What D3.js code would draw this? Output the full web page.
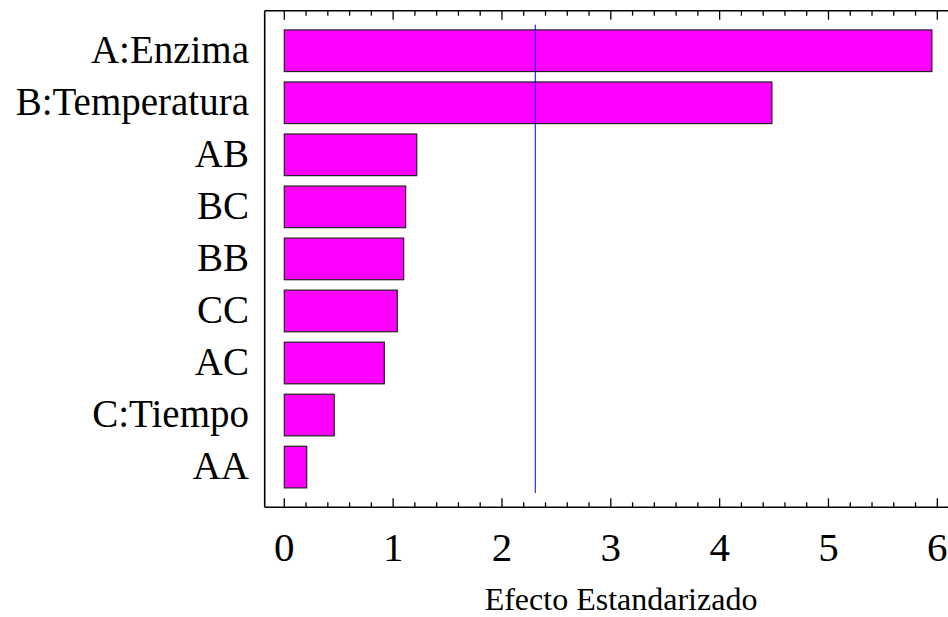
<!DOCTYPE html>
<html>
<head>
<meta charset="utf-8">
<script src="https://cdn.jsdelivr.net/npm/d3@7"></script>
<style>
  html, body { margin: 0; padding: 0; background: #ffffff; }
  svg { display: block; }
  text { font-family: "Liberation Serif", "Times New Roman", Times, serif; fill: #000; }
</style>
</head>
<body>
<svg id="chart" width="948" height="617"></svg>
<script>
// Pareto chart of standardized effects
const categories = ["A:Enzima", "B:Temperatura", "AB", "BC", "BB", "CC", "AC", "C:Tiempo", "AA"];
const effects = [5.95, 4.48, 1.217, 1.115, 1.097, 1.038, 0.919, 0.459, 0.206];
const criticalValue = 2.306;
const tickLabels = [0, 1, 2, 3, 4, 5, 6];
const axisTitle = "Efecto Estandarizado";

const svg = d3.select("#chart");

const frame = { left: 264.7, right: 948.2, top: 10.7, bottom: 507.3 };

const x = d3.scaleLinear()
  .domain([-0.18, 6.1])
  .range([frame.left, frame.right]);

const y = d3.scaleBand()
  .domain(categories)
  .range([24.7, 493.1])
  .paddingInner(0.2)
  .paddingOuter(0.1);

// frame: left, top and bottom lines
const g = svg.append("g");
g.append("line")
  .attr("x1", frame.left).attr("x2", frame.left)
  .attr("y1", frame.top).attr("y2", frame.bottom)
  .attr("stroke", "#000").attr("stroke-width", 1.6);
g.append("line")
  .attr("x1", frame.left).attr("x2", 948)
  .attr("y1", frame.top).attr("y2", frame.top)
  .attr("stroke", "#000").attr("stroke-width", 1.6);
g.append("line")
  .attr("x1", frame.left).attr("x2", 948)
  .attr("y1", frame.bottom).attr("y2", frame.bottom)
  .attr("stroke", "#000").attr("stroke-width", 1.6);

// inward ticks on top and bottom every 0.2, longer at integers
const ticks = d3.range(0, 31).map(i => i / 5);
const isMajor = v => Math.abs(v - Math.round(v)) < 1e-9;

g.selectAll("line.tb").data(ticks).join("line")
  .attr("class", "tb")
  .attr("x1", d => x(d)).attr("x2", d => x(d))
  .attr("y1", frame.bottom)
  .attr("y2", d => frame.bottom - (isMajor(d) ? 9 : 5))
  .attr("stroke", "#000").attr("stroke-width", 1.3);

g.selectAll("line.tt").data(ticks).join("line")
  .attr("class", "tt")
  .attr("x1", d => x(d)).attr("x2", d => x(d))
  .attr("y1", frame.top)
  .attr("y2", d => frame.top + (isMajor(d) ? 9 : 5))
  .attr("stroke", "#000").attr("stroke-width", 1.3);

// tick labels
g.selectAll("text.xl").data(tickLabels).join("text")
  .attr("class", "xl")
  .attr("x", d => x(d))
  .attr("y", 560.5)
  .attr("text-anchor", "middle")
  .style("font-size", "41px")
  .text(d => d);

// bars
g.selectAll("rect.bar").data(categories).join("rect")
  .attr("class", "bar")
  .attr("x", x(0))
  .attr("y", d => y(d))
  .attr("width", (d, i) => x(effects[i]) - x(0))
  .attr("height", y.bandwidth())
  .attr("fill", "#ff00ff")
  .attr("stroke", "#222")
  .attr("stroke-width", 1.2);

// category labels
g.selectAll("text.yl").data(categories).join("text")
  .attr("class", "yl")
  .attr("x", 249)
  .attr("y", d => y(d) + y.bandwidth() / 2 + 12)
  .attr("text-anchor", "end")
  .style("font-size", "39px")
  .text(d => d);

// critical value reference line
g.append("line")
  .attr("x1", x(criticalValue)).attr("x2", x(criticalValue))
  .attr("y1", y.range()[0]).attr("y2", y.range()[1])
  .attr("stroke", "#0000ff").attr("stroke-width", 1);

// axis title
g.append("text")
  .attr("x", 621)
  .attr("y", 610)
  .attr("text-anchor", "middle")
  .style("font-size", "32px")
  .text(axisTitle);
</script>
</body>
</html>
